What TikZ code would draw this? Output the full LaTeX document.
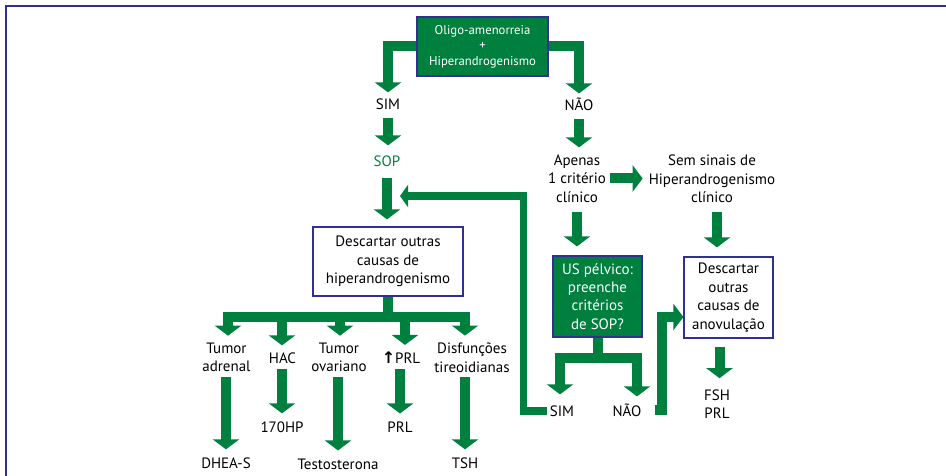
\documentclass[tikz,border=0pt]{standalone}
\usepackage{fontspec}
\setmainfont{PT Sans}
\newfontfamily\symfont{DejaVu Sans}
\usetikzlibrary{arrows.meta,calc}
\definecolor{G}{HTML}{00803F}
\definecolor{N}{HTML}{2E3192}
\begin{document}
\begin{tikzpicture}[x=1pt,y=-1pt,
  fat/.style={draw=G, line width=10pt, line join=miter, -{Triangle[width=26pt,length=10pt]}},
  slim/.style={draw=G, line width=7.5pt, line join=miter, -{Triangle[width=22pt,length=8pt]}},
  lbl/.style={inner sep=0pt, align=center, font=\fontsize{15}{18.5}\selectfont},
  gbox/.style={draw=N, fill=G, line width=1.2pt, text=white, align=center, inner sep=0pt, font=\fontsize{15}{18.3}\selectfont},
  wbox/.style={draw=N, fill=white, line width=1.2pt, align=center, inner sep=0pt, font=\fontsize{15}{18.5}\selectfont},
]
\useasboundingbox (0,0) rectangle (946,476);
\draw[N, line width=1.8pt] (5.8,476) -- (5.8,5.8) -- (946,5.8);

% nodes
\node[gbox, minimum width=131pt, minimum height=59pt, font=\fontsize{12.7}{15.5}\selectfont] (top) at (482.5,46.5) {Oligo-amenorreia\\+\\Hiperandrogenismo};
\node[lbl] (sim1) at (388,104) {SIM};
\node[lbl] (nao1) at (579,104) {NÃO};
\node[lbl, text=G] (sop) at (387,161) {SOP};
\node[wbox, minimum width=150pt, minimum height=69pt] (desc1) at (388,261.5) {Descartar outras\\causas de\\hiperandrogenismo};
\node[lbl] (tumA) at (226.5,357.5) {Tumor\\adrenal};
\node[lbl] (hac) at (282.5,358) {HAC};
\node[lbl] (tumO) at (339,357.5) {Tumor\\ovariano};
\node[lbl] (prlup) at (401,358) {{\symfont\bfseries\fontsize{16}{16}\selectfont ↑}PRL};
\node[lbl] (disf) at (472,357.5) {Disfunções\\tireoidianas};
\node[lbl] (dhea) at (226,463) {DHEA-S};
\node[lbl] (ohp) at (282,427) {170HP};
\node[lbl] (testo) at (338,464) {Testosterona};
\node[lbl] (prl) at (400,427) {PRL};
\node[lbl] (tsh) at (465,463) {TSH};
\node[lbl] (apenas) at (577,178.5) {Apenas\\1 critério\\clínico};
\node[lbl] (sem) at (712,179) {Sem sinais de\\Hiperandrogenismo\\clínico};
\node[gbox, minimum width=89pt, minimum height=81pt] (us) at (597.5,296.5) {US pélvico:\\preenche\\critérios\\de SOP?};
\node[wbox, minimum width=89pt, minimum height=81pt] (desc2) at (728.5,297.5) {Descartar\\outras\\causas de\\anovulação};
\node[lbl] (sim2) at (562,411) {SIM};
\node[lbl] (nao2) at (627,410) {NÃO};
\node[lbl] (fsh) at (717,404) {FSH\\PRL};
\coordinate (fb) at (400,196);
\coordinate (fbc) at (523.5,196);

% connectors
\draw[fat, shorten >=6pt] (top.west) -| (sim1.north);
\draw[fat, shorten >=4pt] (top.east) -| (nao1.north);
\draw[fat, shorten <=8pt, shorten >=10pt] (sim1.south) -- (sim1.south |- sop.north);
\draw[fat, shorten <=11pt, shorten >=7pt] (sop.south) -- (sop.south |- desc1.north);
\foreach \n/\dx in {tumA/1.5, hac/-0.5, tumO/1, prlup/4, disf/-7}
  \draw[fat, shorten <=0.6pt, shorten >=7pt] (desc1.south) -- ++(0,20) -| ([xshift=\dx pt]\n.north);
\draw[fat, shorten <=5pt, shorten >=8pt] (dhea.north |- tumA.south) -- (dhea.north);
\draw[fat, shorten <=5pt, shorten >=8pt] (ohp.north |- hac.south) -- (ohp.north);
\draw[fat, shorten <=5pt, shorten >=8pt] (testo.north |- tumO.south) -- (testo.north);
\draw[fat, shorten <=5pt, shorten >=8pt] (prl.north |- prlup.south) -- (prl.north);
\draw[fat, shorten <=5pt, shorten >=8pt] (tsh.north |- disf.south) -- (tsh.north);
\draw[fat, shorten <=8pt, shorten >=7pt] (nao1.south) -- (nao1.south |- apenas.north);
\draw[fat, shorten <=4pt, shorten >=6pt] (apenas.east) -- (apenas.east -| sem.west);
\draw[fat, shorten <=9pt, shorten >=9pt] (apenas.south) -- (apenas.south |- us.north);
\draw[fat, shorten <=9pt, shorten >=9pt] ([xshift=5pt]sem.south) -- ([xshift=5pt]sem.south |- desc2.north);
\draw[fat, shorten <=0.6pt, shorten >=11pt] (us.south) -- ++(0,20) -| ([xshift=-2pt]sim2.north);
\draw[fat, shorten <=0.6pt, shorten >=7pt] (us.south) -- ++(0,20) -| ([xshift=10pt]nao2.north);
\draw[fat] ([xshift=13pt]nao2.east) -- ++(7,0) |- ([yshift=-19.5pt]desc2.west);
\draw[fat, shorten <=8pt, shorten >=11pt] ([xshift=2.5pt]fsh.north |- desc2.south) -- ([xshift=2.5pt]fsh.north);
\draw[slim, shorten <=3pt] (sim2.west) -| (fbc) -- (fb);
\end{tikzpicture}
\end{document}
